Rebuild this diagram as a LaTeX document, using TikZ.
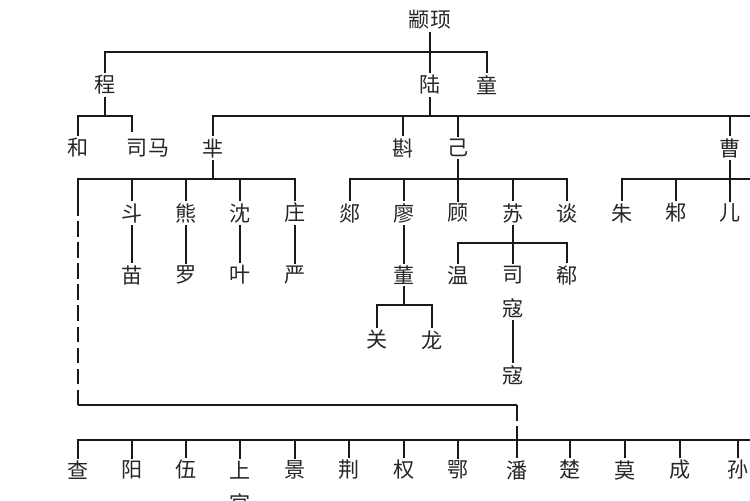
\documentclass[tikz,border=0pt]{standalone}
\usepackage{fontspec}
\setmainfont{Noto Sans CJK SC}
\usetikzlibrary{positioning}
\definecolor{linecol}{gray}{0.1}
\definecolor{textcol}{gray}{0.15}

\begin{document}
\begin{tikzpicture}[
    x=0.02cm, y=-0.02cm,
    person/.style={shape=rectangle, inner sep=1pt, text=textcol, font=\fontsize{12}{12}\selectfont},
    tie/.style={draw=linecol, line width=1.3pt},
    dashtie/.style={draw=linecol, line width=1.3pt, dash pattern=on 9pt off 3pt}
]
\useasboundingbox (0,0) rectangle (750,500);
\clip (0,0) rectangle (750,500);

% Coordinates
\coordinate (root_bar) at (430,52);
\coordinate (cheng_bar) at (105,116);
\coordinate (lu_bar) at (430,116);
\coordinate (mi_bar) at (213,179);
\coordinate (ji_bar) at (458,179);
\coordinate (cao_bar) at (730,179);
\coordinate (su_bar) at (513,243);
\coordinate (dong_bar) at (404,305);
\coordinate (sima_top) at (132,132);
\coordinate (dash_top) at (78,200);
\coordinate (dash_corner) at (78,405);
\coordinate (pan_corner) at (517,405);
\coordinate (low_bar) at (517,440);
\coordinate (right_end) at (760,116);

% Names
\node[person] (zhuanxu) at (430,20) {颛顼};
\node[person] (cheng) at (105,85) {程};
\node[person] (lu) at (430,85) {陆};
\node[person] (tong) at (487,85) {童};

\node[person] (he) at (78,148) {和};
\node[person] (sima) at (148,148) {司马};
\node[person] (mi) at (213,148) {芈};
\node[person] (zhen) at (403,148) {斟};
\node[person] (ji) at (458,148) {己};
\node[person] (cao) at (730,148) {曹};

\node[person] (dou) at (132,213) {斗};
\node[person] (xiong) at (186,213) {熊};
\node[person] (shen) at (240,213) {沈};
\node[person] (zhuang) at (295,213) {庄};
\node[person] (tan) at (350,213) {郯};
\node[person] (liao) at (404,213) {廖};
\node[person] (gu) at (458,213) {顾};
\node[person] (su) at (513,213) {苏};
\node[person] (tanb) at (567,213) {谈};
\node[person] (zhu) at (622,213) {朱};
\node[person] (zhub) at (676,213) {邾};
\node[person] (er) at (730,213) {儿};

\node[person] (miao) at (132,275) {苗};
\node[person] (luo) at (186,275) {罗};
\node[person] (ye) at (240,275) {叶};
\node[person] (yan) at (295,275) {严};
\node[person] (dong) at (404,275) {董};
\node[person] (wen) at (458,275) {温};
\node[person] (si) at (513,275) {司};
\node[person] (kou) at (513,308) {寇};
\node[person] (xi) at (567,275) {郗};
\node[person] (guan) at (377,340) {关};
\node[person] (long) at (432,340) {龙};
\node[person] (koub) at (513,375) {寇};

% bottom row
\foreach \x/\n/\t in {78/cha/查, 132/yang/阳, 186/wu/伍, 240/shang/上, 295/jing/景, 349/jingb/荆, 404/quan/权, 458/e/鄂, 517/pan/潘, 570/chu/楚, 625/mo/莫, 680/chengb/成, 738/sun/孙}
  \node[person] (\n) at (\x,470) {\t};
\node[person] (guanb) at (240,503) {官};

% Ties
\draw[tie] (zhuanxu) -- (root_bar);
\draw[tie] (cheng) |- (root_bar) -| (tong);
\draw[tie] (root_bar) -- (lu);

\draw[tie] (cheng) -- (cheng_bar);
\draw[tie] (he) |- (cheng_bar) -| (sima_top);
\draw[tie] (lu) -- (lu_bar);
\draw[tie] (mi) |- (right_end);
\draw[tie] (zhen) -- (zhen |- lu_bar);
\draw[tie] (ji) -- (ji |- lu_bar);
\draw[tie] (cao) -- (cao |- lu_bar);

\draw[tie] (mi) -- (mi_bar);
\draw[tie] (dash_top) |- (zhuang |- mi_bar) -- (zhuang);
\foreach \n in {dou, xiong, shen}
  \draw[tie] (\n) -- (\n |- mi_bar);
\draw[tie] (ji) -- (ji_bar);
\draw[tie] (tan) |- (ji_bar) -| (tanb);
\foreach \n in {liao, gu, su}
  \draw[tie] (\n) -- (\n |- ji_bar);
\draw[tie] (cao) -- (cao_bar);
\draw[tie] (zhu) |- (760,179);
\foreach \n in {zhub, er}
  \draw[tie] (\n) -- (\n |- cao_bar);

\foreach \a/\b in {dou/miao, xiong/luo, shen/ye, zhuang/yan, liao/dong, kou/koub}
  \draw[tie] (\a) -- (\b);
\draw[tie] (su) -- (su_bar);
\draw[tie] (wen) |- (su_bar) -| (xi);
\draw[tie] (si) -- (si |- su_bar);
\draw[tie] (dong) -- (dong_bar);
\draw[tie] (guan) |- (dong_bar) -| (long);

% dashed line of descent
\draw[dashtie] (dash_top) -- (dash_corner);
\draw[tie] (dash_corner) -- (pan_corner);
\draw[dashtie] (pan_corner) -- (low_bar);

\draw[tie] (cha) |- (760,440);
\foreach \n in {yang, wu, shang, jing, jingb, quan, e, pan, chu, mo, chengb, sun}
  \draw[tie] (\n) -- (\n |- low_bar);

\end{tikzpicture}
\end{document}
